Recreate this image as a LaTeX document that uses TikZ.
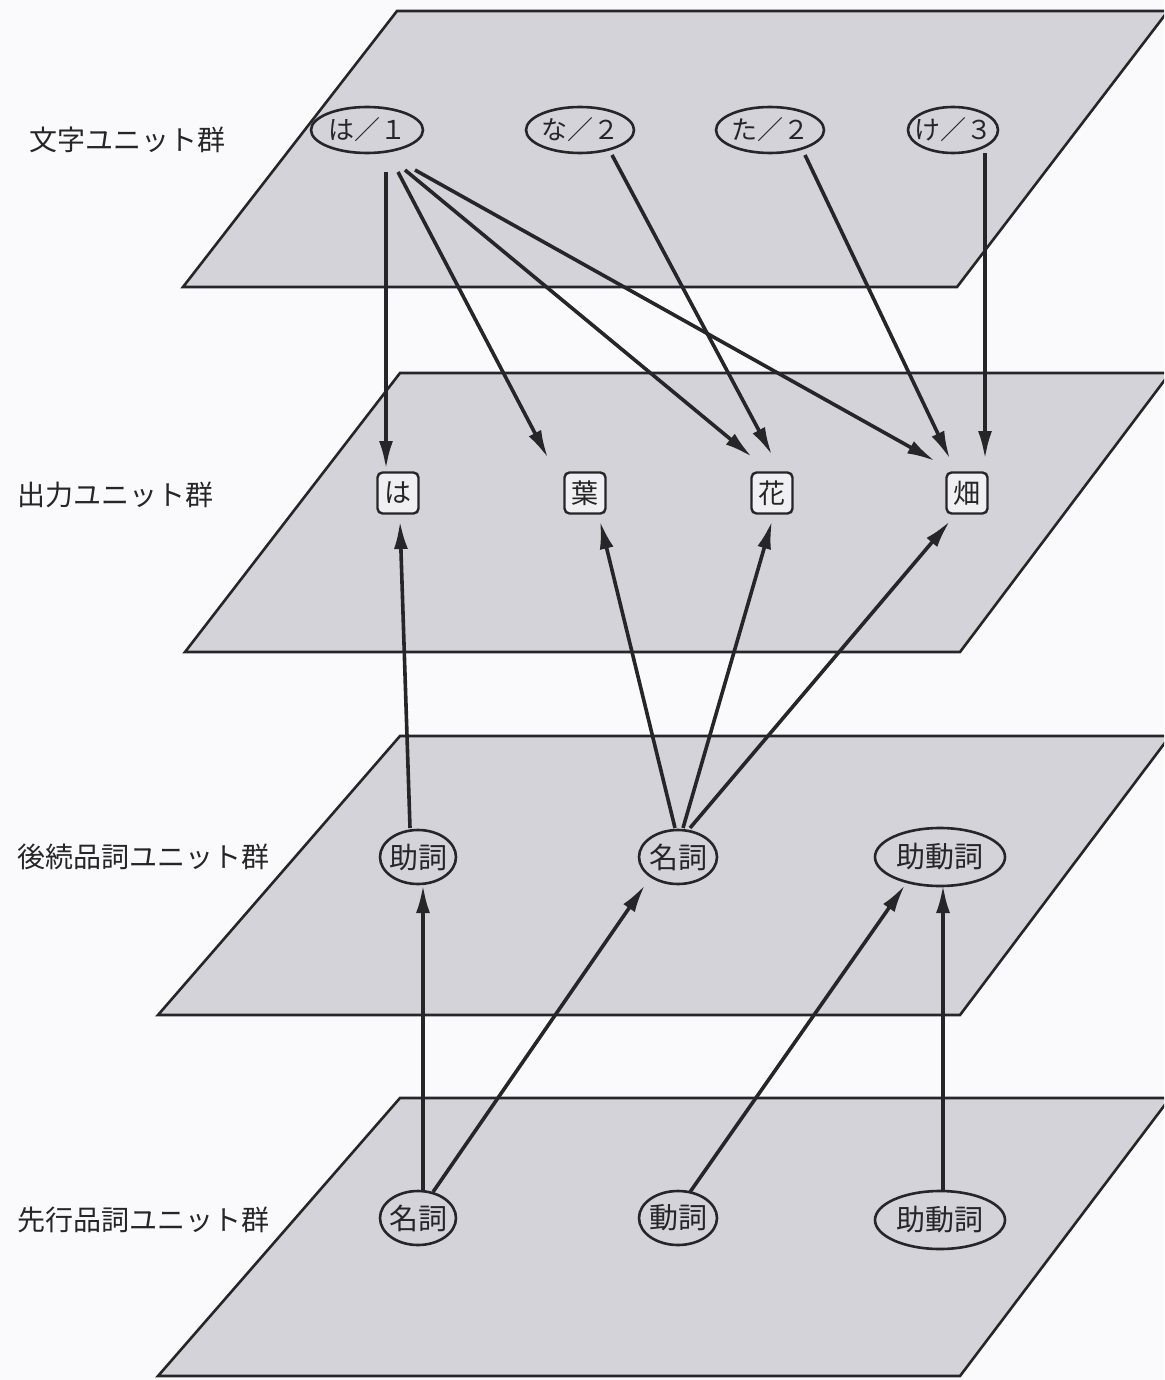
\documentclass[tikz,border=0pt]{standalone}
\usepackage{fontspec}
\setmainfont{Noto Sans CJK JP}
\usetikzlibrary{arrows.meta,shapes.geometric,calc}
\definecolor{bg}{RGB}{250,249,251}
\definecolor{planegray}{RGB}{212,211,217}
\definecolor{ink}{RGB}{38,38,40}
\begin{document}
\begin{tikzpicture}[x=0.5pt,y=-0.5pt,
  plane/.style={draw=ink, line width=1.3pt, fill=planegray, line join=miter},
  lab/.style={anchor=west, inner sep=0pt, text=ink, font=\fontsize{14}{15}\selectfont},
  oval/.style={ellipse, draw=ink, line width=1.3pt, inner sep=0pt, text=ink, font=\fontsize{13}{14}\selectfont},
  posoval/.style={oval, font=\fontsize{14.5}{15}\selectfont},
  box/.style={rectangle, rounded corners=2.5pt, draw=ink, line width=1.2pt, fill=white!65!planegray, inner sep=0pt, minimum size=20.5pt, text=ink, font=\fontsize{13.5}{14}\selectfont},
  arr/.style={-{Latex[length=14pt,width=7pt]}, line width=1.8pt, draw=ink}
]
\useasboundingbox (0,0) rectangle (1164,1380);
\clip (0,0) rectangle (1164,1380);
\fill[bg] (0,0) rectangle (1164,1380);

% planes
\draw[plane] (397,11) -- (1168,11) -- (957,287) -- (183,287) -- cycle;
\draw[plane] (400,373) -- (1170,373) -- (960,652) -- (185,652) -- cycle;
\draw[plane] (400,736) -- (1170,736) -- (960,1015) -- (158,1015) -- cycle;
\draw[plane] (400,1098) -- (1170,1098) -- (960,1376) -- (158,1376) -- cycle;

% labels
\node[lab] (l1) at (29,140) {文字ユニット群};
\node[lab] (l2) at (17,495) {出力ユニット群};
\node[lab] (l3) at (17,857) {後続品詞ユニット群};
\node[lab] (l4) at (17,1220) {先行品詞ユニット群};

% character units
\node[oval, minimum width=56pt, minimum height=23pt] (c1) at (367,130) {\makebox[0pt]{は／１}};
\node[oval, minimum width=54pt, minimum height=23pt] (c2) at (580,130) {\makebox[0pt]{な／２}};
\node[oval, minimum width=54pt, minimum height=23pt] (c3) at (770,130) {\makebox[0pt]{た／２}};
\node[oval, minimum width=45pt, minimum height=23pt] (c4) at (953,130) {\makebox[0pt]{け／３}};

% output units
\node[box] (o1) at (398,493) {は};
\node[box] (o2) at (585,493) {葉};
\node[box] (o3) at (772,493) {花};
\node[box] (o4) at (967,493) {畑};

% following POS units
\node[posoval, minimum width=38pt, minimum height=27pt] (p1) at (418,857) {\makebox[0pt]{助詞}};
\node[posoval, minimum width=39pt, minimum height=27pt] (p2) at (678,857) {\makebox[0pt]{名詞}};
\node[posoval, minimum width=65pt, minimum height=29pt] (p3) at (940,857) {\makebox[0pt]{助動詞}};

% preceding POS units
\node[posoval, minimum width=38pt, minimum height=27pt] (q1) at (418,1218) {\makebox[0pt]{名詞}};
\node[posoval, minimum width=39pt, minimum height=27pt] (q2) at (678,1218) {\makebox[0pt]{動詞}};
\node[posoval, minimum width=65pt, minimum height=29pt] (q3) at (940,1220) {\makebox[0pt]{助動詞}};

% arrows plane 1 -> plane 2
\draw[arr] ($(c1)+(19,42)$) -- ($(o1)+(-12,-24)$);
\draw[arr] ($(c1)+(31,42)$) -- ($(o2)+(-37,-35)$);
\draw[arr] ($(c1)+(38,40)$) -- ($(o3)+(-20,-36)$);
\draw[arr] ($(c1)+(48,40)$) -- ($(o4)+(-32,-32)$);
\draw[arr] ($(c2)+(32,25)$) -- ($(o3)+(0,-38)$);
\draw[arr] ($(c3)+(35,25)$) -- ($(o4)+(-17,-34)$);
\draw[arr] ($(c4)+(32,23)$) -- ($(o4)+(18,-34)$);

% arrows plane 3 -> plane 2
\draw[arr] ($(p1)+(-8,-29)$) -- ($(o1)+(2,28)$);
\draw[arr] ($(p2)+(-3,-29)$) -- ($(o2)+(15,28)$);
\draw[arr] ($(p2)+(5,-29)$) -- ($(o3)+(0,28)$);
\draw[arr] ($(p2)+(12,-29)$) -- ($(o4)+(-17,28)$);

% arrows plane 4 -> plane 3
\draw[arr] ($(q1)+(5,-26)$) -- ($(p1)+(5,28)$);
\draw[arr] ($(q1)+(15,-26)$) -- ($(p2)+(-33,28)$);
\draw[arr] ($(q2)+(12,-26)$) -- ($(p3)+(-35,28)$);
\draw[arr] ($(q3)+(3,-28)$) -- ($(p3)+(3,28)$);
\end{tikzpicture}
\end{document}
